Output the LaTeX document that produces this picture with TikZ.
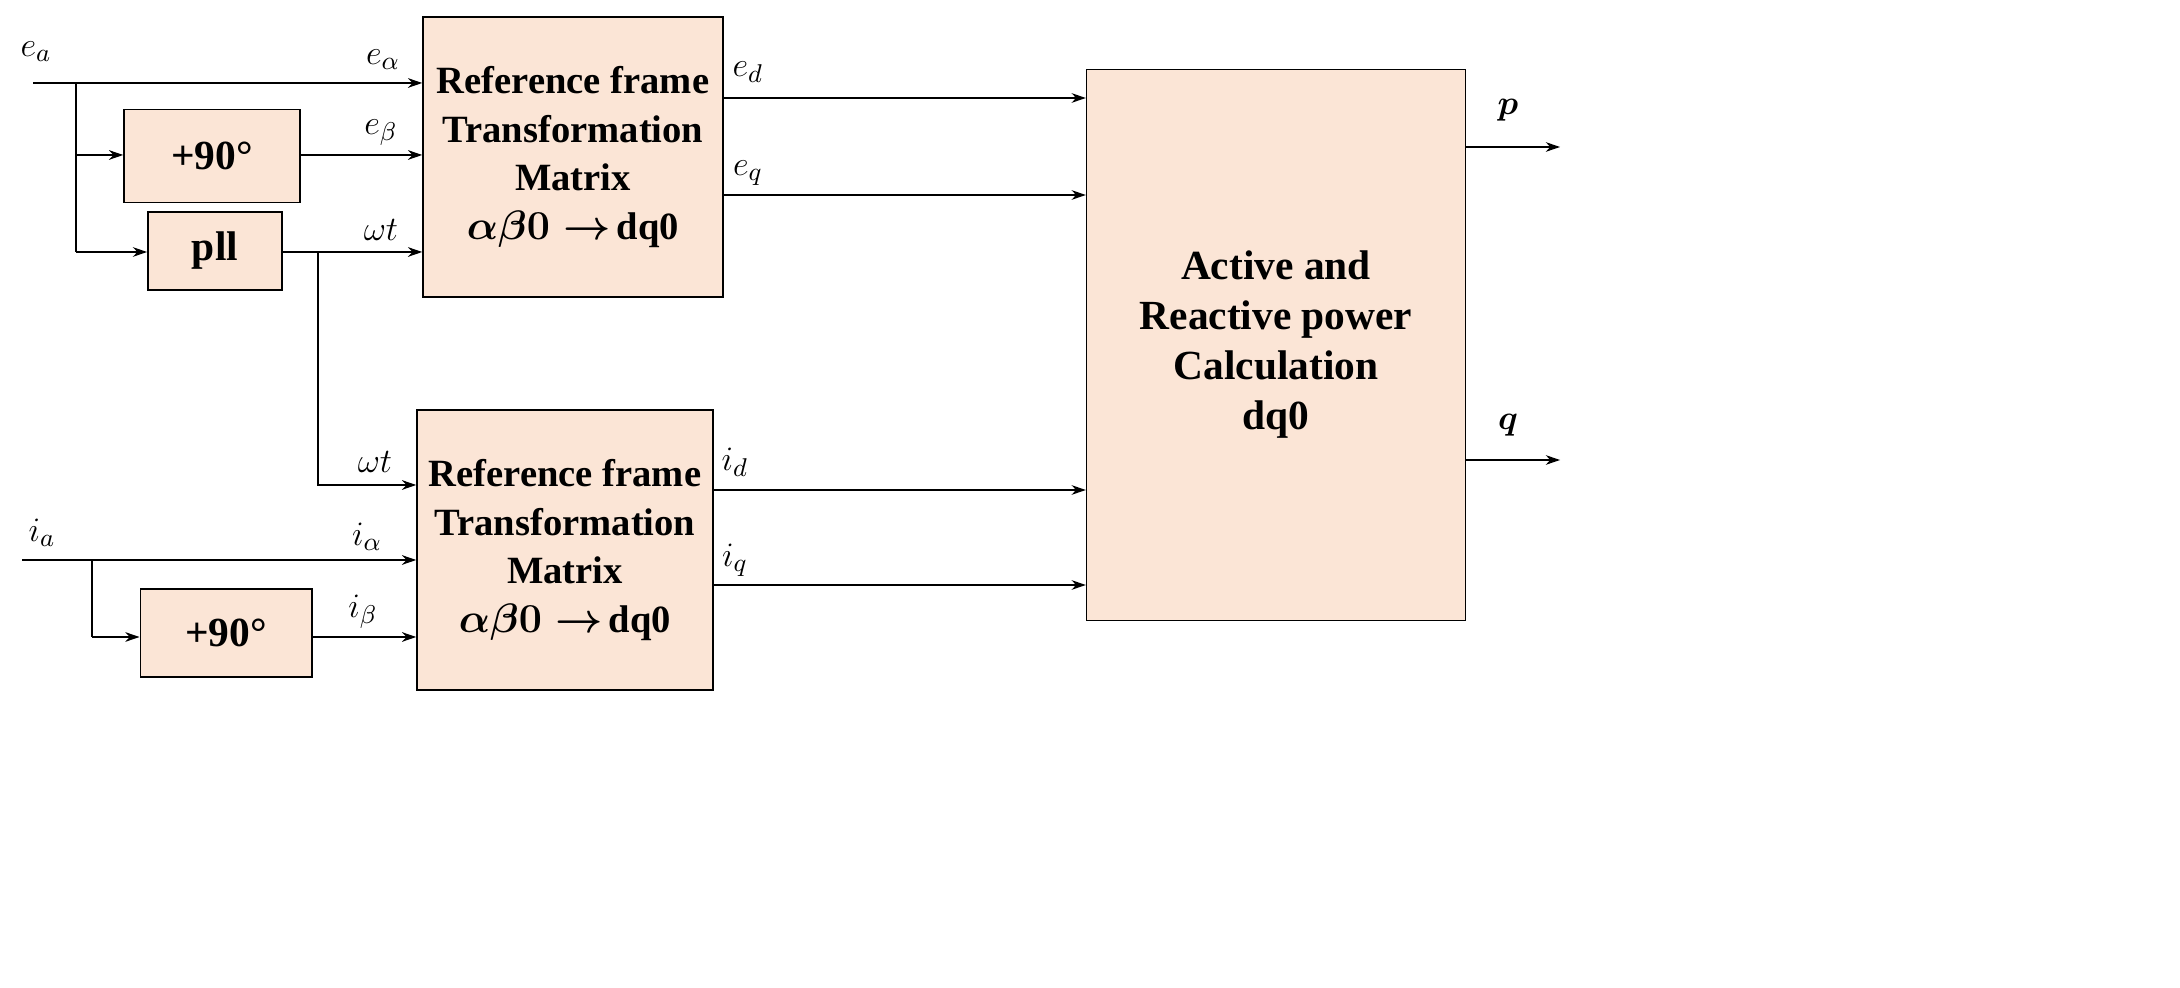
\documentclass[tikz,border=0pt]{standalone}
\usepackage{fontspec}
\setmainfont{Liberation Serif}
\usepackage{amsmath,bm}
\usetikzlibrary{arrows.meta}
\definecolor{peach}{HTML}{FBE5D6}
\begin{document}
\begin{tikzpicture}[x=0.35pt,y=-0.35pt,
  blk/.style={draw=black,line width=0.55pt,fill=peach,inner sep=0pt,align=center,
    font=\fontsize{14.5}{17.5}\selectfont\bfseries\boldmath},
  tblk/.style={blk,font=\fontsize{13.5}{17}\selectfont\bfseries\boldmath},
  sig/.style={line width=0.45pt,-{Stealth[length=5pt,width=3.4pt]}},
  wire/.style={line width=0.45pt},
  lab/.style={font=\fontsize{13}{15}\selectfont,inner sep=0pt}]
\useasboundingbox (0,0) rectangle (2180,988);
\node[tblk,minimum width=105,minimum height=98] (T1) at (573,157) {Reference frame\\Transformation\\Matrix\\$\alpha\beta 0\rightarrow$\,dq0};
\node[blk,minimum width=61.6,minimum height=32.5] (P1) at (212,156) {+90°};
\node[blk,minimum width=47,minimum height=27.3] (PLL) at (215,251) {pll};
\node[tblk,minimum width=103.6,minimum height=98] (T2) at (565,550) {Reference frame\\Transformation\\Matrix\\$\alpha\beta 0\rightarrow$\,dq0};
\node[blk,minimum width=60,minimum height=30.8] (P2) at (226,633) {+90°};
\node[blk,minimum width=132.6,minimum height=192.8] (R) at (1276,345) {Active and\\Reactive power\\Calculation\\dq0};
\coordinate (ea) at (33,83);
\coordinate (eb) at (76,83);
\coordinate (ia) at (22,560);
\coordinate (ib) at (92,560);
\coordinate (pb) at (318,252);
\coordinate (pe) at (1560,147);
\coordinate (qe) at (1560,460);
\draw[sig] (ea) -- (ea -| T1.west);
\draw[wire] (eb) -- (76,252);
\draw[sig] (76,155) -- (76,155 -| P1.west);
\draw[sig] (76,252) -- (76,252 -| PLL.west);
\draw[sig] (P1.east |- 0,155) -- (T1.west |- 0,155);
\draw[sig] (PLL.east |- 0,252) -- (T1.west |- 0,252);
\draw[sig] (pb) -- (318,485) -- (T2.west |- 0,485);
\draw[sig] (ia) -- (ia -| T2.west);
\draw[wire] (ib) -- (92,637);
\draw[sig] (92,637) -- (P2.west |- 0,637);
\draw[sig] (P2.east |- 0,637) -- (T2.west |- 0,637);
\draw[sig] (T1.east |- 0,98) -- (R.west |- 0,98);
\draw[sig] (T1.east |- 0,195) -- (R.west |- 0,195);
\draw[sig] (T2.east |- 0,490) -- (R.west |- 0,490);
\draw[sig] (T2.east |- 0,585) -- (R.west |- 0,585);
\draw[sig] (R.east |- pe) -- (pe);
\draw[sig] (R.east |- qe) -- (qe);
\node[lab] (lea) at (36,52) {$e_a$};
\node[lab] (lal) at (383,60) {$e_\alpha$};
\node[lab] (lbe) at (381,133) {$e_\beta$};
\node[lab] (lwt) at (381,230) {$\omega t$};
\node[lab] (lwt2) at (375,462) {$\omega t$};
\node[lab] (lia) at (42,533) {$i_a$};
\node[lab] (lial) at (367,537) {$i_\alpha$};
\node[lab] (lib) at (363,612) {$i_\beta$};
\node[lab] (led) at (748,72) {$e_d$};
\node[lab] (leq) at (748,173) {$e_q$};
\node[lab] (lid) at (735,462) {$i_d$};
\node[lab] (liq) at (735,560) {$i_q$};
\node[lab] (lp) at (1508,110) {$\bm{p}$};
\node[lab] (lq) at (1508,425) {$\bm{q}$};
\end{tikzpicture}
\end{document}
